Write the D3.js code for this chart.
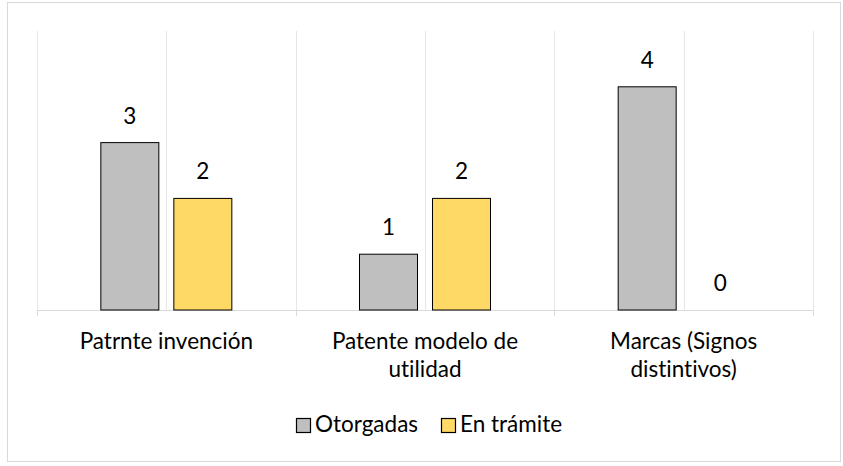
<!DOCTYPE html>
<html>
<head>
<meta charset="utf-8">
<script src="https://cdn.jsdelivr.net/npm/d3@7"></script>
<style>
  body { margin: 0; background: #fff; }
  text { font-family: Lato, "Open Sans", sans-serif; fill: #000; font-variant-ligatures: none; }
</style>
</head>
<body>
<div id="chart"></div>
<script>
// categories and series
const categories = ["Patrnte invención", "Patente modelo de utilidad", "Marcas (Signos distintivos)"];
const categoryLines = [["Patrnte invención"], ["Patente modelo de", "utilidad"], ["Marcas (Signos", "distintivos)"]];
const seriesNames = ["Otorgadas", "En trámite"];
const otorgadas = [3, 1, 4];
const enTramite = [2, 2, 0];
const seriesColors = ["#BFBFBF", "#FFD966"];

const W = 843, H = 466;
const plot = { left: 37, right: 813, top: 31, bottom: 310 };
const fontSize = 22.5;

const svg = d3.select("#chart")
    .append("svg")
    .attr("width", W)
    .attr("height", H);

// chart border
svg.append("rect")
    .attr("x", 7.5).attr("y", 2.5)
    .attr("width", 833).attr("height", 459)
    .attr("fill", "#fff")
    .attr("stroke", "#D9D9D9")
    .attr("stroke-width", 1);

const data = categories.map((c, i) => ({ cat: c, values: [otorgadas[i], enTramite[i]] }));

const x0 = d3.scaleBand().domain(categories).range([plot.left, plot.right]).padding(0);
const groupW = 131;
const x1 = d3.scaleBand()
    .domain(seriesNames)
    .range([(x0.bandwidth() - groupW) / 2, (x0.bandwidth() + groupW) / 2])
    .paddingInner(0.2055);
const y = d3.scaleLinear().domain([0, 5]).range([plot.bottom, plot.top]);

// vertical gridlines at category centres and boundaries
const gridX = [];
categories.forEach((c) => {
    gridX.push(x0(c));
    gridX.push(x0(c) + x0.bandwidth() / 2);
});
gridX.push(plot.right);

svg.append("g")
    .selectAll("line")
    .data(gridX)
    .join("line")
    .attr("x1", (d) => Math.round(d) + 0.5)
    .attr("x2", (d) => Math.round(d) + 0.5)
    .attr("y1", plot.top)
    .attr("y2", plot.bottom)
    .attr("stroke", "#E6E6E6")
    .attr("stroke-width", 1);

// category axis
const xAxis = svg.append("g")
    .attr("transform", `translate(0,${plot.bottom + 0.5})`)
    .call(d3.axisBottom(x0).tickSize(0).tickFormat(""));
xAxis.select(".domain").attr("stroke", "#D9D9D9").attr("d", `M${plot.left},0H${plot.right}`);

// tick marks at category boundaries
svg.append("g")
    .selectAll("line")
    .data(categories.map((c) => x0(c)).concat([plot.right]))
    .join("line")
    .attr("x1", (d) => Math.round(d) + 0.5)
    .attr("x2", (d) => Math.round(d) + 0.5)
    .attr("y1", plot.bottom)
    .attr("y2", plot.bottom + 6)
    .attr("stroke", "#D9D9D9");

// category labels
const catLabels = svg.append("g")
    .selectAll("text")
    .data(categories)
    .join("text")
    .attr("text-anchor", "middle")
    .attr("font-size", fontSize)
    .attr("x", (d) => x0(d) + x0.bandwidth() / 2)
    .attr("y", 349);
catLabels.selectAll("tspan")
    .data((d, i) => categoryLines[i])
    .join("tspan")
    .attr("x", function () { return d3.select(this.parentNode).attr("x"); })
    .attr("dy", (d, i) => (i === 0 ? 0 : 28))
    .text((d) => d);

// bars
const groups = svg.append("g")
    .selectAll("g")
    .data(data)
    .join("g")
    .attr("transform", (d) => `translate(${x0(d.cat)},0)`);

groups.selectAll("rect")
    .data((d) => d.values.map((v, i) => ({ key: seriesNames[i], value: v, i })))
    .join("rect")
    .filter((d) => d.value > 0)
    .attr("x", (d) => x1(d.key))
    .attr("y", (d) => y(d.value))
    .attr("width", x1.bandwidth())
    .attr("height", (d) => y(0) - y(d.value))
    .attr("fill", (d) => seriesColors[d.i])
    .attr("stroke", "#000")
    .attr("stroke-width", 1);

// value labels
groups.selectAll("text")
    .data((d) => d.values.map((v, i) => ({ key: seriesNames[i], value: v })))
    .join("text")
    .attr("text-anchor", "middle")
    .attr("font-size", fontSize)
    .attr("x", (d) => x1(d.key) + x1.bandwidth() / 2)
    .attr("y", (d) => y(d.value) - 19)
    .text((d) => d.value);

// legend
const legendItems = [
    { name: seriesNames[0], color: seriesColors[0], x: 296 },
    { name: seriesNames[1], color: seriesColors[1], x: 441 },
];
const legend = svg.append("g")
    .selectAll("g")
    .data(legendItems)
    .join("g")
    .attr("transform", (d) => `translate(${d.x},418)`);
legend.append("rect")
    .attr("x", 0.5).attr("y", 0.5)
    .attr("width", 14).attr("height", 14)
    .attr("fill", (d) => d.color)
    .attr("stroke", "#000")
    .attr("stroke-width", 1.2);
legend.append("text")
    .attr("x", 19)
    .attr("y", 14)
    .attr("font-size", fontSize)
    .text((d) => d.name);
</script>
</body>
</html>
